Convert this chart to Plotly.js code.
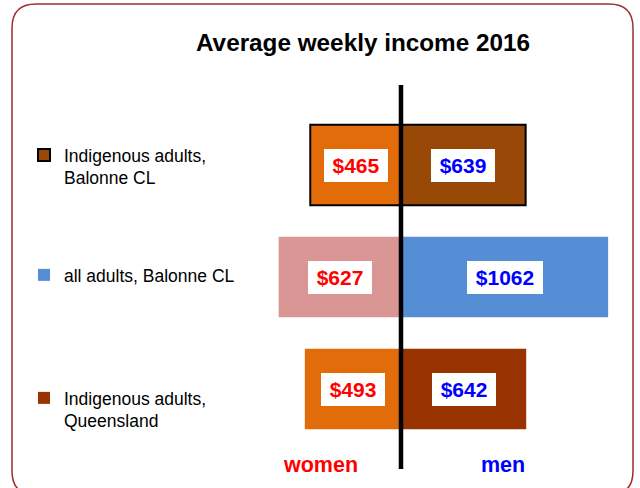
<!DOCTYPE html>
<html>
<head>
<meta charset="utf-8">
<script src="https://cdn.plot.ly/plotly-3.0.1.min.js"></script>
<style>html,body{margin:0;padding:0;background:#fff;}#chart{width:640px;height:488px;}</style>
</head>
<body>
<div id="chart"></div>
<script>
// ---- data ----
const categories = ["Indigenous adults, Balonne CL", "all adults, Balonne CL", "Indigenous adults, Queensland"];
const legendLabels = ["Indigenous adults,<br>Balonne CL", "all adults, Balonne CL", "Indigenous adults,<br>Queensland"];
const women = [465, 627, 493];
const men = [639, 1062, 642];
const womenColors = ["#e36c0a", "#d99694", "#e36c0a"];
const menColors = ["#984807", "#558ed5", "#993300"];
const outlineWidths = [2, 0, 0];
const sideLabels = ["women", "men"];

// ---- layout helpers (pixel -> paper) ----
const W = 640, H = 488;
const M = {l: 250, r: 10, t: 109, b: 43};
const PW = W - M.l - M.r, PH = H - M.t - M.b;
const px = x => (x - M.l) / PW;
const py = y => (H - M.b - y) / PH;
const FONT = "Liberation Sans, Arial, sans-serif";

const traces = [];
const legendIds = ["legend", "legend2", "legend3"];
categories.forEach((c, i) => {
  traces.push({
    type: "bar", orientation: "h", y: [c], x: [-women[i]],
    marker: {color: womenColors[i], line: {color: "#000", width: outlineWidths[i]}},
    showlegend: false, hoverinfo: "skip", legend: legendIds[i]
  });
  traces.push({
    type: "bar", orientation: "h", y: [c], x: [men[i]], name: legendLabels[i],
    marker: {color: menColors[i], line: {color: "#000", width: outlineWidths[i]}},
    showlegend: true, hoverinfo: "skip", legend: legendIds[i]
  });
});

const annotations = [];
const boxW = s => s.length * 12 + 16;
categories.forEach((c, i) => {
  const tw = "$" + women[i], tm = "$" + men[i];
  annotations.push({x: -women[i] / 2, y: c, xref: "x", yref: "y", text: tw, showarrow: false,
    font: {family: FONT, size: 21, color: "#ff0000", weight: "bold"},
    bgcolor: "#ffffff", borderwidth: 0, borderpad: 0, width: boxW(tw), height: 33});
  annotations.push({x: men[i] / 2, y: c, xref: "x", yref: "y", text: tm, showarrow: false,
    font: {family: FONT, size: 21, color: "#0000ff", weight: "bold"},
    bgcolor: "#ffffff", borderwidth: 0, borderpad: 0, width: boxW(tm), height: 33});
});
annotations.push({xref: "paper", yref: "paper", x: px(320), y: py(465), xanchor: "center", yanchor: "middle",
  text: sideLabels[0], showarrow: false,
  font: {family: FONT, size: 21.5, color: "#ff0000", weight: "bold"}});
annotations.push({xref: "paper", yref: "paper", x: px(503), y: py(465), xanchor: "center", yanchor: "middle",
  text: sideLabels[1], showarrow: false,
  font: {family: FONT, size: 21.5, color: "#0000ff", weight: "bold"}});

// frame with rounded corners
const fx0 = 12, fx1 = 633, fy0 = 4, fy1 = 495, r = 24;
const P = (x, y) => px(x) + "," + py(y);
const framePath = "M" + P(fx0, fy0 + r) + " Q" + P(fx0, fy0) + " " + P(fx0 + r, fy0) +
  " L" + P(fx1 - r, fy0) + " Q" + P(fx1, fy0) + " " + P(fx1, fy0 + r) +
  " L" + P(fx1, fy1 - r) + " Q" + P(fx1, fy1) + " " + P(fx1 - r, fy1) +
  " L" + P(fx0 + r, fy1) + " Q" + P(fx0, fy1) + " " + P(fx0, fy1 - r) + " Z";

const legendBase = {x: px(24), xanchor: "left", yanchor: "top", bgcolor: "rgba(0,0,0,0)",
  borderwidth: 0, valign: "top", font: {family: FONT, size: 17.5, color: "#000"}, itemclick: false, itemdoubleclick: false};

const layout = {
  width: W, height: H, margin: M,
  paper_bgcolor: "#fff", plot_bgcolor: "#fff",
  title: {text: "Average weekly income 2016", xref: "container", yref: "container",
    x: 363 / W, xanchor: "center", y: 1 - 42 / H, yanchor: "middle",
    font: {family: FONT, size: 24.3, color: "#000", weight: "bold"}},
  barmode: "overlay", bargap: 0.28,
  xaxis: {range: [-774, 1174], showgrid: false, zeroline: false, showticklabels: false, showline: false, fixedrange: true},
  yaxis: {type: "category", categoryorder: "array", categoryarray: categories, range: [2.5, -0.5],
    showgrid: false, zeroline: false, showticklabels: false, showline: false, fixedrange: true},
  legend: Object.assign({}, legendBase, {y: py(137)}),
  legend2: Object.assign({}, legendBase, {y: py(257)}),
  legend3: Object.assign({}, legendBase, {y: py(380)}),
  annotations: annotations,
  shapes: [
    {type: "path", xref: "paper", yref: "paper", path: framePath, line: {color: "#a02c2c", width: 1.5}, layer: "below"},
    {type: "line", xref: "x", yref: "paper", x0: 0, x1: 0, y0: py(469), y1: py(85), line: {color: "#000", width: 4.5}, layer: "above"}
  ],
  showlegend: true
};

Plotly.newPlot("chart", traces, layout, {displayModeBar: false, staticPlot: true});
</script>
</body>
</html>
